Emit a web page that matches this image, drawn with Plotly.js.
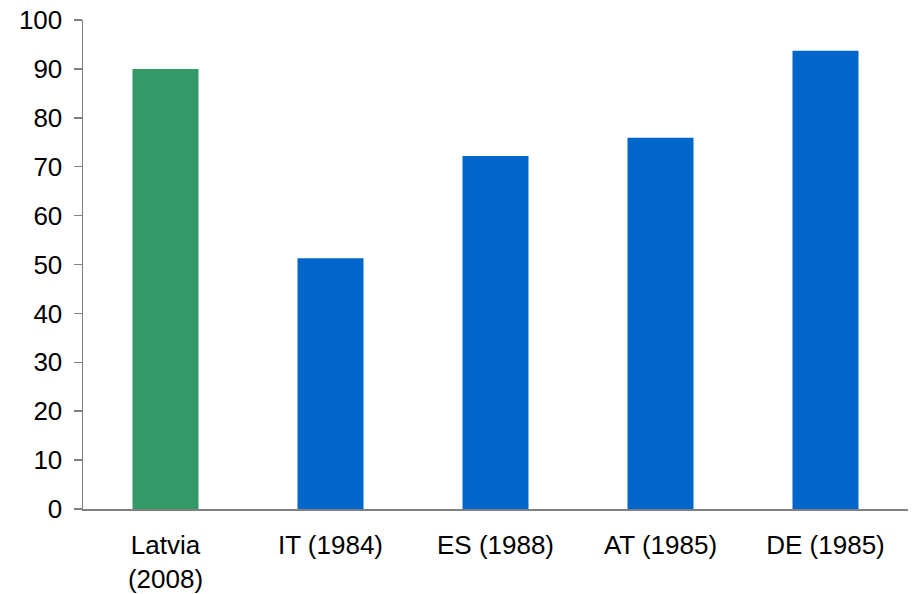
<!DOCTYPE html>
<html><head><meta charset="utf-8">
<script src="https://cdn.plot.ly/plotly-3.0.1.min.js"></script>
<style>body{margin:0;background:#fff}#c{width:912px;height:594px}</style>
</head><body><div id="c"></div>
<script>
const categories = ["Latvia<br>(2008)", "IT (1984)", "ES (1988)", "AT (1985)", "DE (1985)"];
const values = [90, 51.3, 72.2, 75.9, 93.7];
const colors = ["#339966", "#0066CC", "#0066CC", "#0066CC", "#0066CC"];
const yTicks = [0,10,20,30,40,50,60,70,80,90,100];

Plotly.newPlot("c", [{
  type: "bar", x: categories, y: values, marker: {color: colors}, width: 0.4, hoverinfo: "none"
}], {
  width: 912, height: 594,
  margin: {l: 83, r: 4, t: 20, b: 85},
  paper_bgcolor: "#fff", plot_bgcolor: "#fff",
  font: {family: "Liberation Sans, Arial, sans-serif", size: 26, color: "#000"},
  showlegend: false,
  xaxis: {showline: true, linecolor: "#808080", linewidth: 2, ticks: "", showgrid: false, zeroline: false, ticklabelstandoff: 12, fixedrange: true},
  yaxis: {range: [0, 100], tickvals: yTicks, showline: true, linecolor: "#808080", linewidth: 1.5, ticks: "outside", ticklen: 8, tickcolor: "#808080", tickwidth: 1.5, showgrid: false, zeroline: false, ticklabelstandoff: 6, fixedrange: true}
}, {staticPlot: true});
</script></body></html>
